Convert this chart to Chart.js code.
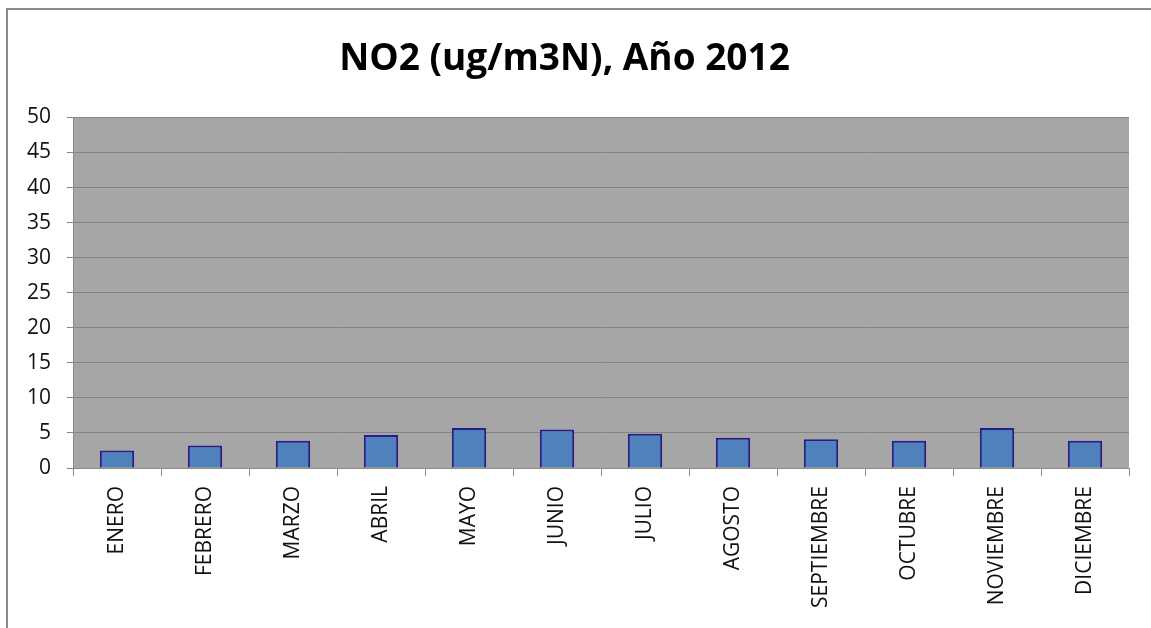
<!DOCTYPE html>
<html>
<head>
<meta charset="utf-8">
<script src="https://cdn.jsdelivr.net/npm/chart.js@4.4.0/dist/chart.umd.min.js"></script>
<style>
  html, body { margin: 0; padding: 0; background: #fff; }
  #wrap { width: 1151px; height: 628px; position: relative; }
</style>
</head>
<body>
<div id="wrap"><canvas id="no2Chart" width="1151" height="628"></canvas></div>
<script>
var meses = ['ENERO', 'FEBRERO', 'MARZO', 'ABRIL', 'MAYO', 'JUNIO', 'JULIO',
             'AGOSTO', 'SEPTIEMBRE', 'OCTUBRE', 'NOVIEMBRE', 'DICIEMBRE'];
var valoresNO2 = [2.5, 3.2, 3.9, 4.7, 5.7, 5.5, 4.9, 4.3, 4.1, 3.9, 5.7, 3.9];
var ejeY = { min: 0, max: 50, paso: 5 };

// fondo gris del area de trazado y marco exterior
var fondoPlugin = {
    id: 'fondo',
    beforeDraw: function(chart) {
        var ctx = chart.ctx, a = chart.chartArea;
        ctx.save();
        ctx.fillStyle = '#a6a6a6';
        ctx.fillRect(a.left, a.top, a.right - a.left, a.bottom - a.top);
        ctx.restore();
    },
    afterDraw: function(chart) {
        var ctx = chart.ctx;
        ctx.save();
        ctx.strokeStyle = '#8a8a8a';
        ctx.lineWidth = 2;
        ctx.beginPath();
        ctx.moveTo(7, chart.height);
        ctx.lineTo(7, 9);
        ctx.lineTo(chart.width, 9);
        ctx.stroke();
        ctx.restore();
    }
};

document.addEventListener('DOMContentLoaded', function() {
    var ctx = document.getElementById('no2Chart').getContext('2d');

    var datos = {
        labels: meses,
        datasets: [{
            data: valoresNO2,
            backgroundColor: '#4f81bd',
            borderColor: '#2a1b8a',
            borderWidth: 2,
            barPercentage: 0.39,
            categoryPercentage: 1
        }]
    };

    var options = {
        responsive: false,
        animation: false,
        layout: { padding: { left: 0, right: 22, top: 0, bottom: 0 } },
        plugins: {
            legend: { display: false },
            tooltip: { enabled: false },
            title: {
                display: true,
                text: 'NO2 (ug/m3N), Año 2012',
                color: '#000',
                font: { family: 'Open Sans', size: 37, weight: 'bold' },
                padding: { top: 37, bottom: 36 }
            }
        },
        scales: {
            x: {
                grid: { offset: true, drawOnChartArea: false, tickLength: 8, color: '#8c8c8c' },
                border: { color: '#8c8c8c' },
                ticks: {
                    minRotation: 90, maxRotation: 90, autoSkip: false,
                    padding: 10, color: '#111',
                    font: { family: 'Open Sans', size: 21 }
                },
                afterFit: function(scale) { scale.height = 160; }
            },
            y: {
                min: ejeY.min, max: ejeY.max,
                grid: { color: '#858585', tickLength: 6 },
                border: { color: '#8c8c8c' },
                ticks: {
                    stepSize: ejeY.paso, padding: 16, color: '#111',
                    font: { family: 'Open Sans', size: 21 }
                },
                afterFit: function(scale) { scale.width = 73; }
            }
        }
    };

    new Chart(ctx, { type: 'bar', data: datos, options: options, plugins: [fondoPlugin] });
});
</script>
</body>
</html>
